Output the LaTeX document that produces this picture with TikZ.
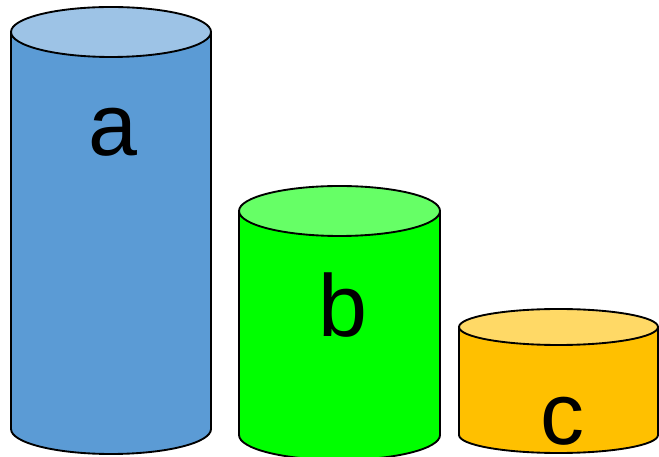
\documentclass[tikz,border=0pt]{standalone}
\usepackage{fontspec}
\setmainfont{Liberation Sans}
\usepackage{tikz}
\usetikzlibrary{calc}
\definecolor{sideA}{HTML}{5B9BD5}
\definecolor{capA}{HTML}{9DC3E6}
\definecolor{sideB}{HTML}{00FF00}
\definecolor{capB}{HTML}{66FF66}
\definecolor{sideC}{HTML}{FFC000}
\definecolor{capC}{HTML}{FFD966}
\tikzset{
  outline/.style={draw=black,line width=1.4pt,line join=round},
  letter/.style={anchor=base,inner sep=0pt,text depth=0pt,font=\fontsize{66}{70}\selectfont}
}

\begin{document}
\begin{tikzpicture}[x=0.75pt,y=0.75pt]
    \useasboundingbox (0,0) rectangle (659,456);
    % Cylinder a (tall, blue)
    \coordinate (aTop) at (111,424);
    \draw[outline,fill=sideA] (11,424) -- (11,27)
        arc[start angle=180,end angle=360,x radius=100,y radius=25] -- (211,424) -- cycle;
    \draw[outline,fill=capA] (aTop) ellipse[x radius=100,y radius=25];
    % Cylinder b (middle, green)
    \coordinate (bTop) at (339.5,245);
    \draw[outline,fill=sideB] (239,245) -- (239,21)
        arc[start angle=180,end angle=360,x radius=100.5,y radius=25] -- (440,245) -- cycle;
    \draw[outline,fill=capB] (bTop) ellipse[x radius=100.5,y radius=25];
    % Cylinder c (short, orange)
    \coordinate (cTop) at (558.5,129);
    \draw[outline,fill=sideC] (459,129) -- (459,21)
        arc[start angle=180,end angle=360,x radius=99.5,y radius=18] -- (658,129) -- cycle;
    \draw[outline,fill=capC] (cTop) ellipse[x radius=99.5,y radius=18];
    % Labels
    \node[letter] (la) at (113,300) {a};
    \node[letter] (lb) at (343,119) {b};
    \node[letter] (lc) at (562,12) {c};
\end{tikzpicture}
\end{document}
